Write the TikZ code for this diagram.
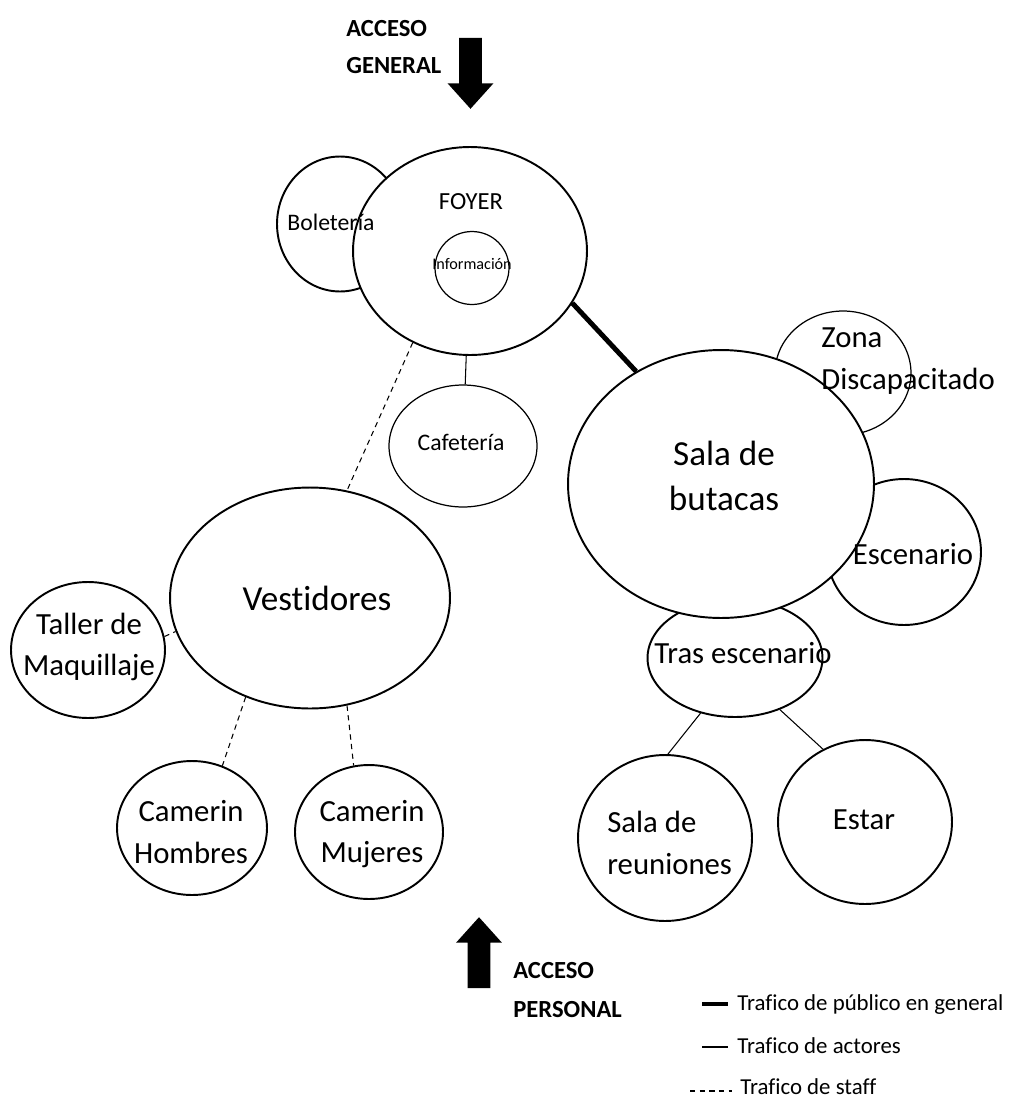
\documentclass[tikz,border=0pt]{standalone}
\usepackage{fontspec}
\setmainfont{Carlito}[Ligatures=NoCommon]
\usetikzlibrary{shapes.geometric,shapes.arrows,calc}
\tikzstyle{room}=[draw, ellipse, line width=1.1pt, inner sep=0pt]
\tikzstyle{thinroom}=[room, line width=0.7pt]
\tikzstyle{bigtext}=[inner sep=0pt, align=center, font=\fontsize{20}{26}\selectfont]
\tikzstyle{midtext}=[inner sep=0pt, align=center, font=\fontsize{17.5}{23.5}\selectfont]
\tikzstyle{smalltext}=[inner sep=0pt, align=center, font=\fontsize{13.5}{16}\selectfont]
\tikzstyle{tinytext}=[inner sep=0pt, font=\fontsize{9.2}{11}\selectfont]
\tikzstyle{legtext}=[inner sep=0pt, anchor=base west, font=\fontsize{13}{15}\selectfont]
\tikzstyle{acceso}=[inner sep=0pt, anchor=west, align=left, font=\bfseries\fontsize{14}{21}\selectfont]
\tikzstyle{entrada}=[single arrow, fill=black, draw=none, inner sep=0.22cm, minimum height=1.42cm, single arrow head extend=0.23cm, single arrow tip angle=84]
\tikzstyle{publico}=[line width=2.8pt]
\tikzstyle{actores}=[line width=0.6pt]
\tikzstyle{staff}=[line width=0.6pt, dash pattern=on 3pt off 2.5pt]
\begin{document}
\begin{tikzpicture}[x=0.02cm, y=-0.02cm]
\useasboundingbox (0,0) rectangle (1014,1099);

% accesos
\node (general) [entrada, shape border rotate=270] at (470.5,67) {};
\node (generaltxt) [acceso] at (346,47) {ACCESO\\GENERAL};
\node (personal) [entrada, shape border rotate=90] at (479,959) {};
\node (personaltxt) [acceso, font=\bfseries\fontsize{14}{22}\selectfont] at (513,990) {ACCESO\\PERSONAL};

% zona publica
\node (bolet) [room, minimum width=2.52cm, minimum height=2.7cm] at (340,224) {};
\node (foyer) [room, fill=white, minimum width=4.68cm, minimum height=4.16cm] at (470,251) {};
\node (info) [thinroom, minimum width=1.48cm, minimum height=1.46cm] at (472,268) {};
\node (cafe) [thinroom, minimum width=2.96cm, minimum height=2.44cm] at (463,446) {};

% sala y escenario
\node (zona) [thinroom, minimum width=2.72cm, minimum height=2.48cm] at (843,373) {};
\node (escen) [room, minimum width=3.08cm, minimum height=2.92cm] at (904,552) {};
\node (tras) [room, minimum width=3.5cm, minimum height=2.36cm] at (735,658) {};
\node (sala) [room, fill=white, minimum width=6.12cm, minimum height=5.36cm] at (721,484) {};
\node (reun) [room, minimum width=3.48cm, minimum height=3.32cm] at (665,838) {};
\node (estar) [room, minimum width=3.48cm, minimum height=3.28cm] at (865,822) {};

% zona de actores
\node (vest) [room, minimum width=5.6cm, minimum height=4.42cm] at (310,598) {};
\node (taller) [room, minimum width=3.08cm, minimum height=2.72cm] at (88,650) {};
\node (hombres) [room, minimum width=3cm, minimum height=2.68cm] at (192,828) {};
\node (mujeres) [room, minimum width=2.96cm, minimum height=2.68cm] at (369,832) {};

% circulaciones
\draw [publico] (foyer.-27) -- (sala.127);
\draw [actores] (foyer) -- (cafe);
\draw [actores] (tras.238) -- (reun.88);
\draw [actores] (tras.-49) -- (estar.120);
\draw [staff] (foyer.238) -- (vest.71);
\draw [staff] (taller.10) -- (vest.194);
\draw [staff] (vest.237) -- (hombres.64);
\draw [staff] (vest.-71) -- (mujeres.103);

% textos
\node (bolettxt) [smalltext] at (331,222) {Boletería};
\node (foyertxt) [smalltext, font=\fontsize{14}{16}\selectfont] at (471,202) {FOYER};
\node (infotxt) [tinytext] at (472,264) {Información};
\node (cafetxt) [smalltext] at (461,442) {Cafetería};
\node (salatxt) [bigtext] at (724,476) {Sala de\\butacas};
\node (zonatxt) [midtext, anchor=west, align=left] at (821,361) {Zona\\Discapacitado};
\node (escentxt) [midtext] at (913,554) {Escenario};
\node (trastxt) [midtext] at (743,653) {Tras escenario};
\node (reuntxt) [midtext, anchor=west, align=left] at (607,843) {Sala de\\reuniones};
\node (estartxt) [midtext] at (864,820) {Estar};
\node (vesttxt) [bigtext] at (317,598) {Vestidores};
\node (tallertxt) [midtext] at (89,647) {Taller de\\Maquillaje};
\node (hombrestxt) [midtext] at (191,832) {Camerin\\Hombres};
\node (mujerestxt) [midtext] at (372,834) {Camerin\\Mujeres};

% leyenda
\node (lgpublico) [legtext] at (737,1010) {Trafico de público en general};
\node (lgactores) [legtext] at (737,1053) {Trafico de actores};
\node (lgstaff) [legtext] at (740,1094) {Trafico de staff};
\draw [publico] ($(lgpublico.base west)+(-35,-6)$) -- ($(lgpublico.base west)+(-9,-6)$);
\draw [actores] ($(lgactores.base west)+(-35,-6)$) -- ($(lgactores.base west)+(-9,-6)$);
\draw [staff] ($(lgstaff.base west)+(-50,-3)$) -- ($(lgstaff.base west)+(-8,-3)$);
\end{tikzpicture}
\end{document}
